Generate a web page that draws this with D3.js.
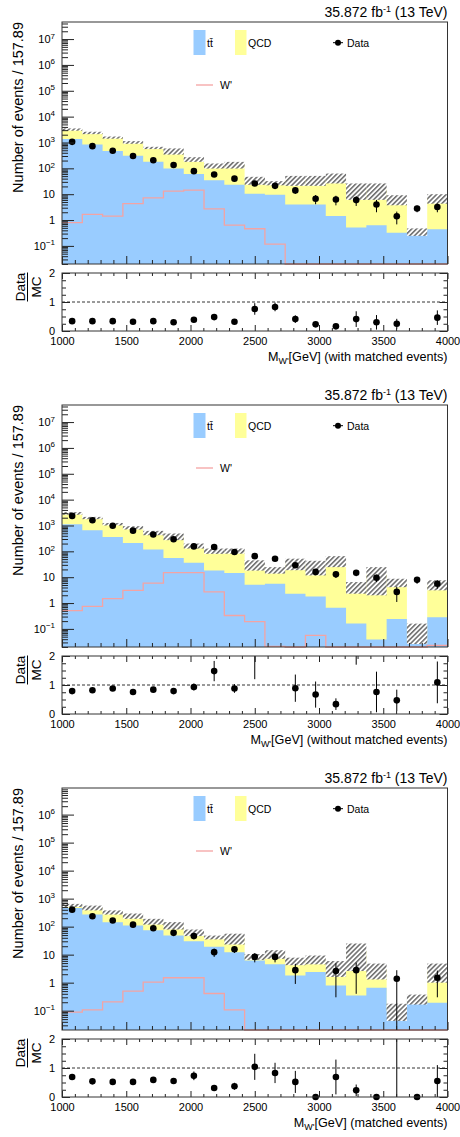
<!DOCTYPE html>
<html>
<head>
<meta charset="utf-8">
<script src="https://cdn.jsdelivr.net/npm/d3@7"></script>
<style>
  body { margin: 0; background: #fff; }
  text { font-family: "Liberation Sans", Arial, Helvetica, sans-serif; fill: #000; }
</style>
</head>
<body>
<svg id="chart" width="460" height="1137"></svg>
<script>
// binning: 19 bins of 157.89 GeV between 1000 and 4000
const nBins = 19, xMin = 1000, xMax = 4000
const binEdges = d3.range(nBins + 1).map(i => xMin + i * (xMax - xMin) / nBins)

// ---- panel 1: with matched events
const ttbarA   = [1350, 840, 465, 305, 178, 98, 60, 35, 23, 10.5, 9.6, 4.0, 4.0, 1.45, 0.51, 0.63, 0.32, 0.36, 0.44]
const qcdA     = [1825, 1510, 1085, 705, 440, 367, 164, 91, 115, 24.5, 17.4, 32, 32, 43, 15.5, 15.4, 6.1, 0, 6.7]
const uncA     = [325, 250, 150, 120, 63, 125, 46, 28, 40, 12, 5, 15, 15, 18.5, 10, 10, 2.7, 0.115, 2.85]
const dataA    = [1060, 720, 480, 300, 205, 134, 78, 58, 40, 26, 21, 14, 6.7, 6.2, 5.9, 4.0, 1.4, 2.8, 3.2]
const dataErrA = [33, 27, 22, 17, 14, 12, 9, 7.6, 6.3, 5, 4.5, 3.7, 2.6, 2.5, 2.4, 2, 0.72, 0.8, 1.2]
const wprimeA  = [0.79, 1.66, 1.41, 4.3, 7.2, 13.2, 14.4, 2.7, 0.64, 0.46, 0.117, 0, 0, 0, 0, 0, 0, 0, 0]
const ratioA   = [0.34, 0.34, 0.34, 0.32, 0.34, 0.30, 0.39, 0.48, 0.32, 0.76, 0.83, 0.41, 0.23, 0.16, 0.41, 0.30, 0.25, 7.9, 0.46]
const ratioErrA = [0.015, 0.018, 0.02, 0.022, 0.025, 0.03, 0.045, 0.06, 0.05, 0.2, 0.15, 0.13, 0.08, 0.05, 0.27, 0.25, 0.17, 2.3, 0.25]

// ---- panel 2: without matched events
const ttbarB   = [1120, 660, 360, 210, 118, 55, 36, 18, 14.4, 5.1, 5.6, 2.3, 1.8, 0.66, 0.16, 0.039, 0.24, 0.03, 0.28]
const qcdB     = [1830, 1290, 765, 610, 402, 325, 128, 86, 90.6, 26.4, 13.5, 33, 25.6, 44.1, 4.24, 13.2, 6.16, 0.063, 5.07]
const uncB     = [350, 200, 125, 120, 100, 110, 36, 24, 24, 13.5, 5.4, 16.7, 15.7, 20.3, 2.1, 11.25, 2.3, 0.067, 2.25]
const dataB    = [2350, 1590, 980, 630, 450, 295, 155, 148, 94, 65, 52, 29, 16, 12.9, 14.9, 9.5, 2.7, 7.9, 5.6]
const dataErrB = [45, 38, 30, 24, 20, 17, 13, 12, 10, 8, 7, 5, 4, 3.5, 4, 3, 1.6, 2.3, 2]
const wprimeB  = [0.51, 0.75, 1.47, 3.1, 5.9, 15, 15, 2.7, 0.33, 0.19, 0.021, 0, 0.056, 0, 0, 0, 0, 0, 0.023]
const ratioB   = [0.79, 0.82, 0.88, 0.76, 0.84, 0.79, 0.93, 1.48, 0.88, 2.1, 2.7, 0.89, 0.67, 0.34, 3.4, 0.76, 0.47, 85, 1.09]
const ratioErrB = [0.03, 0.03, 0.035, 0.04, 0.045, 0.1, 0.12, 0.35, 0.15, 0.9, 0.5, 0.47, 0.45, 0.2, 1.7, 0.7, 0.37, 25, 0.72]

// ---- panel 3: matched events
const ttbarC   = [465, 270, 145, 109, 75, 48, 30, 19, 12.3, 6.2, 4.5, 1.8, 2.4, 0.79, 0.35, 0.66, 0.1, 0.27, 0.19]
const qcdC     = [112, 202, 180, 133, 79, 64, 32.5, 22.5, 27.2, 2.3, 6.25, 4.2, 4.5, 2.96, 13.45, 2.39, 0.01, 0, 2.71]
const uncC     = [72, 92, 55, 52, 36, 33, 16.5, 6.5, 16.5, 2, 3.65, 1.8, 2.4, 2.15, 11.2, 1.75, 0.067, 0.105, 1.9]
const dataC    = [405, 235, 165, 118, 88, 60, 46, 12.3, 15.5, 8.3, 8.3, 2.8, 0, 2.6, 2.8, 0, 1.38, 0, 1.5]
const dataErrC = [20, 15, 13, 11, 9, 8, 7, 4, 4, 3, 3, 1.9, 0, 2.3, 2.4, 0, 1.4, 0, 1.2]
const wprimeC  = [0.089, 0.106, 0.205, 0.50, 1.05, 1.5, 1.5, 0.41, 0.107, 0, 0, 0, 0, 0, 0, 0, 0, 0, 0]
const ratioC   = [0.69, 0.54, 0.52, 0.52, 0.59, 0.55, 0.73, 0.31, 0.37, 1.04, 0.83, 0.52, 0, 0.69, 0.23, 0, 12.5, 0, 0.55]
const ratioErrC = [0.04, 0.04, 0.05, 0.06, 0.07, 0.08, 0.15, 0.1, 0.12, 0.45, 0.35, 0.38, 0, 0.6, 0.2, 0, 12.6, 0, 0.55]

const panels = [
    {ttbar: ttbarA, qcd: qcdA, unc: uncA, data: dataA, err: dataErrA, wp: wprimeA, ratio: ratioA, rerr: ratioErrA,
     title: "(with matched events)", logMin: -1.70, logMax: 7.66, topDecade: 7},
    {ttbar: ttbarB, qcd: qcdB, unc: uncB, data: dataB, err: dataErrB, wp: wprimeB, ratio: ratioB, rerr: ratioErrB,
     title: "(without matched events)", logMin: -1.70, logMax: 7.66, topDecade: 7},
    {ttbar: ttbarC, qcd: qcdC, unc: uncC, data: dataC, err: dataErrC, wp: wprimeC, ratio: ratioC, rerr: ratioErrC,
     title: "(matched events)", logMin: -1.69, logMax: 6.95, topDecade: 6}
]

const blue = "#99ccff", yellow = "#ffff99", pink = "#f4a3a3", ink = "#222"
const left = 62, right = 447.5
const mainTop = 22, mainBot = 264, ratioTop = 273, ratioBot = 331
const panelStep = 383

const svg = d3.select("#chart")
const defs = svg.append("defs")
const pat = defs.append("pattern")
    .attr("id", "hatch")
    .attr("patternUnits", "userSpaceOnUse")
    .attr("width", 3.4).attr("height", 3.4)
    .attr("patternTransform", "rotate(45)")
pat.append("rect").attr("width", 3.4).attr("height", 3.4).attr("fill", "#fff")
pat.append("line").attr("x1", 0.8).attr("y1", 0).attr("x2", 0.8).attr("y2", 3.4)
    .attr("stroke", "#3a3a3a").attr("stroke-width", 1.15)

const x = d3.scaleLinear().domain([xMin, xMax]).range([left, right])

function supLabel(sel, base, sup) {
    sel.text(null)
    sel.append("tspan").text(base)
    if (sup !== null) sel.append("tspan").attr("dy", "-4.5").style("font-size", "8px").text(sup)
}

panels.forEach((p, k) => {
    const o = k * panelStep
    const g = svg.append("g")
    const yMinV = Math.pow(10, p.logMin)
    const y = d3.scaleLog().domain([yMinV, Math.pow(10, p.logMax)]).range([o + mainBot, o + mainTop])
    const yv = v => v <= yMinV ? o + mainBot : y(v)
    const yr = d3.scaleLinear().domain([0, 2]).range([o + ratioBot, o + ratioTop])
    const clampR = v => Math.max(0, Math.min(2, v))

    const bins = d3.range(nBins).map(i => ({
        i, x0: binEdges[i], x1: binEdges[i + 1],
        tt: p.ttbar[i], tot: p.ttbar[i] + p.qcd[i], u: p.unc[i],
        d: p.data[i], e: p.err[i], w: p.wp[i], r: p.ratio[i], re: p.rerr[i]
    }))

    // stacked backgrounds, drawn as step areas
    const stepPts = key => bins.flatMap(b => [[b.x0, b[key]], [b.x1, b[key]]])
    const stepArea = d3.area().x(d => x(d[0])).y0(o + mainBot).y1(d => yv(d[1]))
    g.append("path").attr("d", stepArea(stepPts("tot"))).attr("fill", yellow)
    g.append("path").attr("d", stepArea(stepPts("tt"))).attr("fill", blue)

    // MC uncertainty band
    g.append("g").selectAll("rect").data(bins).join("rect")
        .attr("x", b => x(b.x0)).attr("width", b => x(b.x1) - x(b.x0))
        .attr("y", b => yv(b.tot + b.u)).attr("height", b => yv(b.tot - b.u) - yv(b.tot + b.u))
        .attr("fill", "url(#hatch)")

    // W' signal step line
    g.append("path").attr("d", d3.line().x(d => x(d[0])).y(d => yv(d[1]))(stepPts("w")))
        .attr("fill", "none").attr("stroke", pink).attr("stroke-width", 1.3)

    // data
    const dbins = bins.filter(b => b.d > 0)
    g.append("g").selectAll("line").data(dbins).join("line")
        .attr("x1", b => x((b.x0 + b.x1) / 2)).attr("x2", b => x((b.x0 + b.x1) / 2))
        .attr("y1", b => yv(b.d - b.e)).attr("y2", b => y(b.d + b.e))
        .attr("stroke", "#000").attr("stroke-width", 1)
    g.append("g").selectAll("circle").data(dbins).join("circle")
        .attr("cx", b => x((b.x0 + b.x1) / 2)).attr("cy", b => y(b.d)).attr("r", 3.3)
        .attr("fill", "#000")

    // main axes (ROOT style, ticks inside)
    const decades = d3.range(-1, p.topDecade + 1)
    const minors = []
    d3.range(-2, 8).forEach(dd => d3.range(2, 10).forEach(m => {
        const v = m * Math.pow(10, dd)
        if (v > yMinV && v < Math.pow(10, p.logMax)) minors.push(v)
    }))
    g.append("g").attr("transform", `translate(${left},0)`)
        .call(d3.axisLeft(y).tickValues(minors).tickSize(-6).tickFormat(""))
        .call(a => a.select(".domain").remove())
        .call(a => a.selectAll("line").attr("stroke", ink))
    const ya = g.append("g").attr("transform", `translate(${left},0)`)
        .call(d3.axisLeft(y).tickValues(decades.map(d => Math.pow(10, d))).tickSize(-12).tickPadding(7))
        .call(a => a.select(".domain").remove())
        .call(a => a.selectAll("line").attr("stroke", ink))
    ya.selectAll("text").style("font-size", "11px").attr("font-family", null)
        .each(function(v) {
            const e = Math.round(Math.log10(v))
            const s = d3.select(this)
            if (e === 0) supLabel(s, "1", null)
            else if (e === 1) supLabel(s, "10", null)
            else supLabel(s, "10", e < 0 ? "\u2212" + (-e) : String(e))
        })

    const majX = d3.range(1000, 4001, 500), minX = d3.range(1000, 4001, 100).filter(v => v % 500)
    g.append("g").attr("transform", `translate(0,${o + mainBot})`)
        .call(d3.axisBottom(x).tickValues(minX).tickSize(-4).tickFormat(""))
        .call(a => a.select(".domain").remove())
        .call(a => a.selectAll("line").attr("stroke", ink))
    g.append("g").attr("transform", `translate(0,${o + mainBot})`)
        .call(d3.axisBottom(x).tickValues(majX).tickSize(-8).tickFormat(""))
        .call(a => a.select(".domain").remove())
        .call(a => a.selectAll("line").attr("stroke", ink))

    g.append("rect").attr("x", left).attr("y", o + mainTop)
        .attr("width", right - left).attr("height", mainBot - mainTop)
        .attr("fill", "none").attr("stroke", "#333").attr("stroke-width", 1)

    // lumi label
    const lumi = g.append("text").attr("x", right).attr("y", o + 17)
        .attr("text-anchor", "end").style("font-size", "14px")
    lumi.append("tspan").text("35.872 fb")
    lumi.append("tspan").attr("dy", "-5.5").style("font-size", "9px").text("-1")
    lumi.append("tspan").attr("dy", "5.5").text(" (13 TeV)")

    // y title
    g.append("text")
        .attr("transform", `translate(22.5,${o + mainTop}) rotate(-90)`)
        .attr("text-anchor", "end").style("font-size", "14.5px")
        .text("Number of events / 157.89")

    // legend
    const lg = g.append("g").style("font-size", "10.5px")
    lg.append("rect").attr("x", 193.5).attr("y", o + 30).attr("width", 12).attr("height", 25).attr("fill", blue)
    lg.append("text").attr("x", 207).attr("y", o + 47).text("tt\u0304")
    lg.append("rect").attr("x", 235).attr("y", o + 30).attr("width", 11.5).attr("height", 25).attr("fill", yellow)
    lg.append("text").attr("x", 248).attr("y", o + 46.5).text("QCD")
    lg.append("line").attr("x1", 333).attr("x2", 343).attr("y1", o + 42.7).attr("y2", o + 42.7).attr("stroke", "#000")
    lg.append("circle").attr("cx", 338).attr("cy", o + 42.7).attr("r", 3).attr("fill", "#000")
    lg.append("text").attr("x", 347).attr("y", o + 46.5).text("Data")
    lg.append("line").attr("x1", 196).attr("x2", 213).attr("y1", o + 85).attr("y2", o + 85)
        .attr("stroke", pink).attr("stroke-width", 1.3)
    lg.append("text").attr("x", 220).attr("y", o + 88.5).text("W'")

    // ---- ratio pad
    g.append("line").attr("x1", left).attr("x2", right).attr("y1", yr(1)).attr("y2", yr(1))
        .attr("stroke", "#000").attr("stroke-width", 0.8).attr("stroke-dasharray", "3,2")

    const rbins = bins.filter(b => b.re > 0 && clampR(b.r - b.re) < clampR(b.r + b.re))
    g.append("g").selectAll("line").data(rbins).join("line")
        .attr("x1", b => x((b.x0 + b.x1) / 2)).attr("x2", b => x((b.x0 + b.x1) / 2))
        .attr("y1", b => yr(clampR(b.r - b.re))).attr("y2", b => yr(clampR(b.r + b.re)))
        .attr("stroke", "#000").attr("stroke-width", 1)
    g.append("g").selectAll("circle").data(bins.filter(b => b.r >= 0 && b.r <= 2)).join("circle")
        .attr("cx", b => x((b.x0 + b.x1) / 2)).attr("cy", b => yr(b.r)).attr("r", 3.3)
        .attr("fill", "#000")

    const rMinor = d3.range(0, 2.01, 0.25).filter(v => v % 1)
    g.append("g").attr("transform", `translate(${left},0)`)
        .call(d3.axisLeft(yr).tickValues(rMinor).tickSize(-4).tickFormat(""))
        .call(a => a.select(".domain").remove())
        .call(a => a.selectAll("line").attr("stroke", ink))
    g.append("g").attr("transform", `translate(${left},0)`)
        .call(d3.axisLeft(yr).tickValues([0, 1, 2]).tickSize(-8).tickPadding(7).tickFormat(d3.format("d")))
        .call(a => a.select(".domain").remove())
        .call(a => a.selectAll("line").attr("stroke", ink))
        .call(a => a.selectAll("text").style("font-size", "11px").attr("font-family", null))
    g.append("g").attr("transform", `translate(${right},0)`)
        .call(d3.axisRight(yr).tickValues(rMinor).tickSize(-4).tickFormat(""))
        .call(a => a.select(".domain").remove())
        .call(a => a.selectAll("line").attr("stroke", ink))
    g.append("g").attr("transform", `translate(${right},0)`)
        .call(d3.axisRight(yr).tickValues([0, 1, 2]).tickSize(-8).tickFormat(""))
        .call(a => a.select(".domain").remove())
        .call(a => a.selectAll("line").attr("stroke", ink))

    g.append("g").attr("transform", `translate(0,${o + ratioBot})`)
        .call(d3.axisBottom(x).tickValues(minX).tickSize(-3).tickFormat(""))
        .call(a => a.select(".domain").remove())
        .call(a => a.selectAll("line").attr("stroke", ink))
    g.append("g").attr("transform", `translate(0,${o + ratioBot})`)
        .call(d3.axisBottom(x).tickValues(majX).tickSize(-6).tickPadding(6).tickFormat(d3.format("d")))
        .call(a => a.select(".domain").remove())
        .call(a => a.selectAll("line").attr("stroke", ink))
        .call(a => a.selectAll("text").style("font-size", "11px").attr("font-family", null))
    g.append("g").attr("transform", `translate(0,${o + ratioTop})`)
        .call(d3.axisTop(x).tickValues(minX).tickSize(-3).tickFormat(""))
        .call(a => a.select(".domain").remove())
        .call(a => a.selectAll("line").attr("stroke", ink))
    g.append("g").attr("transform", `translate(0,${o + ratioTop})`)
        .call(d3.axisTop(x).tickValues(majX).tickSize(-6).tickFormat(""))
        .call(a => a.select(".domain").remove())
        .call(a => a.selectAll("line").attr("stroke", ink))

    g.append("rect").attr("x", left).attr("y", o + ratioTop)
        .attr("width", right - left).attr("height", ratioBot - ratioTop)
        .attr("fill", "none").attr("stroke", "#333").attr("stroke-width", 1)

    // Data / MC label
    const rl = g.append("g").attr("transform", `translate(0,${o + 287}) rotate(-90)`).style("font-size", "13.5px")
    rl.append("text").attr("x", 0).attr("y", 25).attr("text-anchor", "middle").text("Data")
    rl.append("line").attr("x1", -14.5).attr("x2", 14.5).attr("y1", 27.5).attr("y2", 27.5)
        .attr("stroke", "#000").attr("stroke-width", 1)
    rl.append("text").attr("x", 0).attr("y", 40.5).attr("text-anchor", "middle").text("MC")

    // x title
    const xt = g.append("text").attr("x", right).attr("y", o + 361)
        .attr("text-anchor", "end").style("font-size", "12.6px")
    xt.append("tspan").text("M")
    xt.append("tspan").attr("dy", "3").style("font-size", "9px").text("W'")
    xt.append("tspan").attr("dy", "-3").text("[GeV] " + p.title)
})
</script>
</body>
</html>
